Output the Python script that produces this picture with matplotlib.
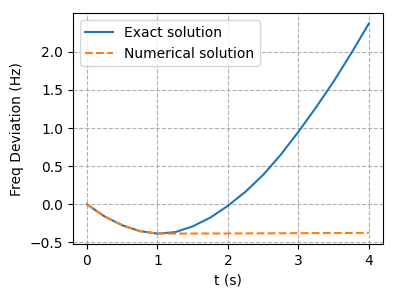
import matplotlib.pyplot as plt
import numpy as np

# values
t_exact = [0.0, 0.25, 0.5, 0.75, 1.0, 1.25, 1.5, 1.75, 2.0,
           2.25, 2.5, 2.75, 3.0, 3.25, 3.5, 3.75, 4.0]
f_exact = [0.0, -0.16, -0.275, -0.352, -0.385, -0.366, -0.29, -0.175, -0.02,
           0.165, 0.385, 0.65, 0.95, 1.27, 1.61, 1.98, 2.37]

t_num = [0.0, 0.25, 0.5, 0.75, 1.0, 1.5, 2.0, 2.5, 3.0, 3.5, 4.0]
f_num = [0.0, -0.16, -0.275, -0.352, -0.385, -0.384, -0.383, -0.381,
         -0.379, -0.377, -0.375]


def _main():
    fig = plt.figure(figsize=(3.96, 2.97), dpi=100)
    ax = fig.add_axes([0.184, 0.178, 0.783, 0.778])

    ax.plot(t_exact, f_exact, color="#1f77b4", label="Exact solution")
    ax.plot(t_num, f_num, "--", color="#ff7f0e", label="Numerical solution")

    ax.grid(True, linestyle="--", color="#b0b0b0")
    ax.set_xlabel("t (s)")
    ax.set_ylabel("Freq Deviation (Hz)")
    ax.set_xticks(np.arange(0, 5))
    ax.set_yticks(np.arange(-0.5, 2.01, 0.5))
    ax.legend(loc="upper left")

    fig.savefig("out.png", dpi=100)


if __name__ == "__main__":
    _main()
